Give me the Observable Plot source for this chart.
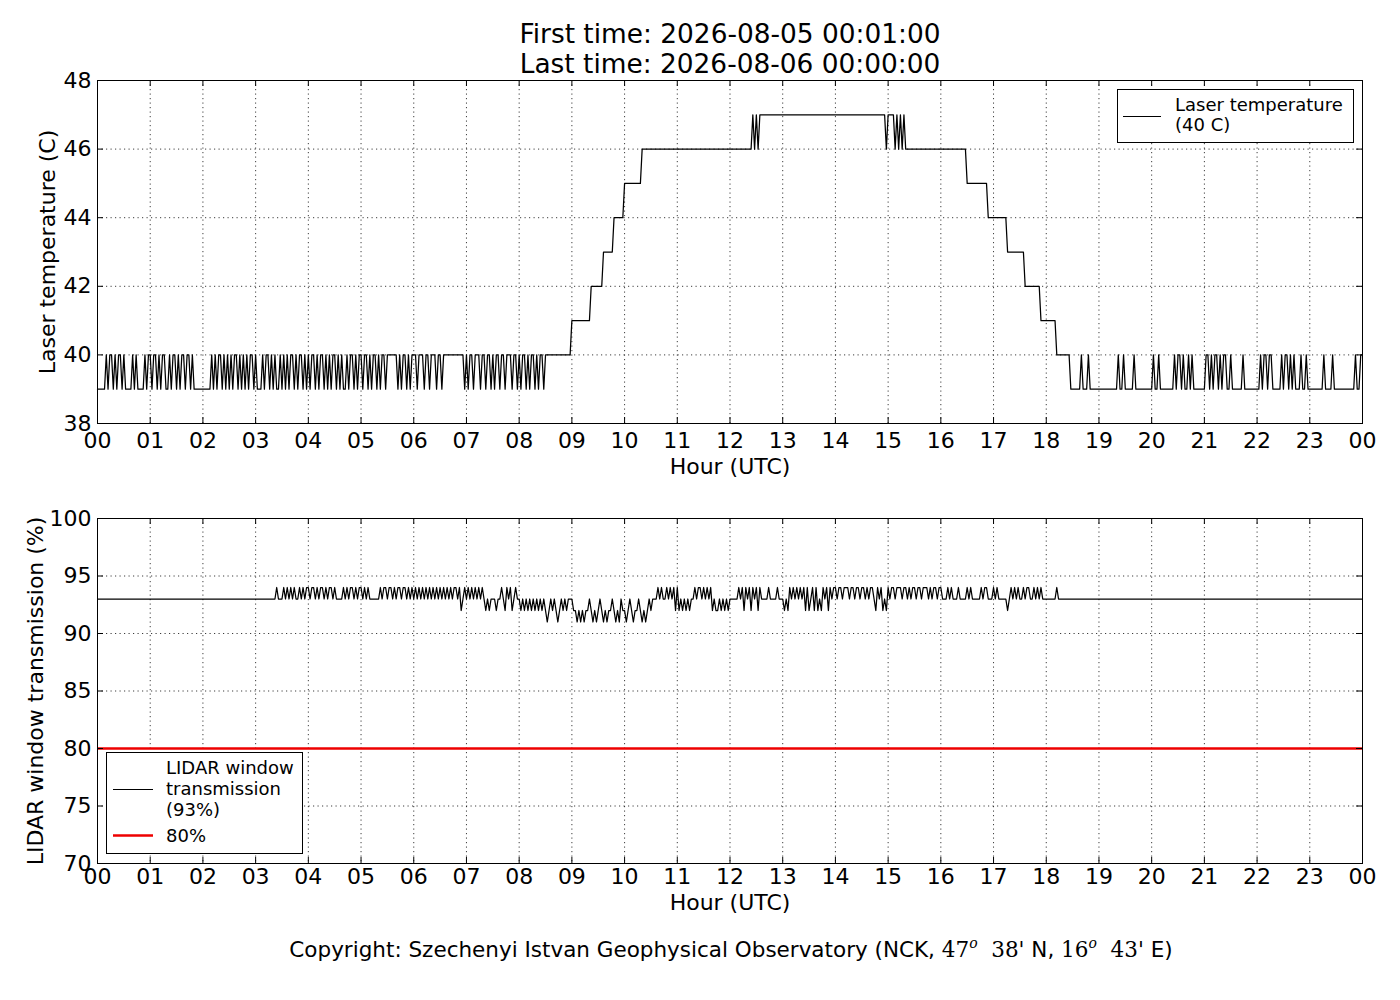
<!DOCTYPE html>
<html><head><meta charset="utf-8">
<script src="https://cdn.jsdelivr.net/npm/d3@7"></script>
<script src="https://cdn.jsdelivr.net/npm/@observablehq/plot@0.6"></script>
<style>
body{margin:0;background:#fff;font-family:"DejaVu Sans",sans-serif;color:#000}
#wrap{position:relative;width:1400px;height:1000px;overflow:hidden;background:#fff}
.abs{position:absolute}
#title{left:730px;top:19px;transform:translateX(-50%);font-size:26.4px;line-height:30px;text-align:center;white-space:nowrap}
.legend{border:1px solid #000;background:#fff;font-size:18px;box-sizing:border-box}
.legend .txt{position:absolute;white-space:nowrap}
#copy{left:731px;top:937px;transform:translateX(-50%);font-size:21.5px;white-space:nowrap}
.m{font-family:"DejaVu Serif",serif}
.m sup{font-size:14px;font-style:italic;vertical-align:9px;line-height:0}
</style>
</head><body>
<div id="wrap">
  <div id="title" class="abs">First time: 2026-08-05 00:01:00<br>Last time: 2026-08-06 00:00:00</div>
  <div id="top" class="abs" style="left:0;top:0"></div>
  <div id="bot" class="abs" style="left:0;top:480px"></div>
  <div class="abs legend" style="left:1117px;top:89px;width:237px;height:54px">
    <svg class="abs" style="left:0;top:0" width="60" height="54"><line x1="5" x2="43" y1="26.5" y2="26.5" stroke="#000" stroke-width="1.2"/></svg>
    <div class="txt" style="left:57px;top:5px;line-height:20px">Laser temperature<br>(40 C)</div>
  </div>
  <div class="abs legend" style="left:106px;top:752px;width:197px;height:102px">
    <svg class="abs" style="left:0;top:0" width="60" height="100"><line x1="6" x2="46" y1="36.5" y2="36.5" stroke="#000" stroke-width="1.2"/><line x1="6" x2="46" y1="82.5" y2="82.5" stroke="#e00" stroke-width="2.6"/></svg>
    <div class="txt" style="left:59px;top:4px;line-height:21px">LIDAR window<br>transmission<br>(93%)</div>
    <div class="txt" style="left:59px;top:72px;line-height:21px">80%</div>
  </div>
  <div id="copy" class="abs">Copyright: Szechenyi Istvan Geophysical Observatory (NCK, <span class="m">47<sup>o</sup>&nbsp;&nbsp;38'</span> N, <span class="m">16<sup>o</sup>&nbsp;&nbsp;43'</span> E)</div>
</div>
<script>
// ---- data: one string per hour, one character per 2-minute sample ----
// Laser temperature: value = 39 + digit
const tempBase = 39;
const tempHours = [
  "00000" + "101101011010" + "000" + "1010" + "000" + "101",
  "1011010110" + "0" + "10110101101" + "1010" + "0000",
  "00000" + "1010110101" + "0" + "10110101" + "0" + "10110",
  "10" + "00" + "1011" + "0" + "1010" + "0" + "101" + "0" + "101101011" + "0" + "10",
  "1011010110" + "10" + "1011" + "0" + "1010" + "0" + "1011" + "0" + "101",
  "1011010110101101" + "11111" + "010110101",
  "11011101101110110111" + "111111111" + "0",
  "1011011101" + "1011010110" + "1101110110",
  "101101011010110" + "111111111111111",
  "22222222222" + "3333333" + "444444" + "555555",
  "6666666666" + "77777777777777777777",
  "777777777777777777777777777777",
  "7777777777777" + "878788" + "88888888888",
  "888888888888888888888888888888",
  "888888888888888888888888888887",
  "8888787878" + "77777777777777777777",
  "777777777777777" + "666666666666" + "555",
  "55555555" + "4444444444" + "333333333" + "222",
  "222222" + "11111111" + "0000001000100000",
  "000000000001001000001000000000",
  "01001" + "00000000" + "101101" + "00" + "1" + "0" + "1" + "000000",
  "0" + "110101101011" + "00" + "1" + "000000" + "1" + "0000000",
  "00" + "1011011" + "00000" + "101101" + "0" + "1" + "000" + "1" + "00" + "1" + "0",
  "00000000" + "1" + "0000" + "1" + "000000000000" + "1" + "00" + "1"
];
const tempEnd = "1";

// LIDAR window transmission: value = 90 + digit
const transBase = 90;
const transHours = [
  "333333333333333333333333333333",
  "333333333333333333333333333333",
  "333333333333333333333333333333",
  "333333333333" + "4" + "333" + "434" + "3" + "4343" + "3" + "43434",
  "43443434434344343" + "333" + "4343443434",
  "434343" + "33333" + "4344344343443443434",
  "34343434343434343434343" + "4434234",
  "34343434343" + "2323" + "33233" + "4324342343",
  "3232323232323" + "232123232123232" + "33",
  "3221212122" + "3212123212" + "1223212132",
  "2123212232121232" + "3334343343" + "4342",
  "42" + "323232" + "33" + "4344343434" + "2322323232",
  "33333" + "4342434243424" + "3333" + "4" + "3333" + "4" + "33",
  "3" + "2324" + "34343434" + "2423424232434243" + "4",
  "4344344434434434434344" + "32434232",
  "4344344434" + "4343443443" + "4443434434",
  "43" + "33" + "434" + "333" + "4" + "3333" + "434" + "33333" + "4344" + "333",
  "434" + "33333" + "2" + "3" + "43434" + "33" + "4344" + "33" + "43434" + "33",
  "333333" + "4" + "33333333333333333333333",
  "333333333333333333333333333333",
  "333333333333333333333333333333",
  "333333333333333333333333333333",
  "333333333333333333333333333333",
  "333333333333333333333333333333"
];
const transEnd = "3";

const threshold = [80];
const hourVals = d3.range(0, 25);
const xTickLabels = ["00","01","02","03","04","05","06","07","08","09","10","11","12","13","14","15","16","17","18","19","20","21","22","23","00"];
const tempTicks = [38, 40, 42, 44, 46, 48];
const transTicks = [70, 75, 80, 85, 90, 95, 100];
const tempLabel = "Laser temperature (C)";
const transLabel = "LIDAR window transmission (%)";
const xLabel = "Hour (UTC)";

function series(hours, end, base) {
  const out = [];
  hours.forEach((s, h) => { for (let i = 0; i < s.length; i++) out.push({t: h + i / s.length, v: base + +s[i]}); });
  out.push({t: 24, v: base + +end});
  return out;
}
const tempData = series(tempHours, tempEnd, tempBase);
const transData = series(transHours, transEnd, transBase);

const ML = 97, MR = 38, FW = 1400 - ML - MR;
const gridStyle = {stroke: "#000", strokeOpacity: 0.85, strokeWidth: 0.9, strokeDasharray: "1.2,3.3"};

function panel({height, mt, mb, domain, ticks, data, label, labelDx, tickPad, xLabelDy, extra}) {
  const FH = height - mt - mb;
  const tk = 6;
  return Plot.plot({
    width: 1400, height, marginTop: mt, marginBottom: mb, marginLeft: ML, marginRight: MR,
    style: {fontFamily: "DejaVu Sans", fontSize: "22px", color: "#000", background: "transparent", overflow: "visible"},
    x: {domain: [0, 24]},
    y: {domain},
    marks: [
      Plot.gridX(hourVals, gridStyle),
      Plot.gridY(ticks, gridStyle),
      ...(extra || []),
      Plot.line(data, {x: "t", y: "v", stroke: "#000", strokeWidth: 1.25}),
      Plot.tickX(hourVals, {x: d => d, insetTop: FH - tk, stroke: "#000"}),
      Plot.tickX(hourVals, {x: d => d, insetBottom: FH - tk, stroke: "#000"}),
      Plot.tickY(ticks, {y: d => d, insetRight: FW - tk, stroke: "#000"}),
      Plot.tickY(ticks, {y: d => d, insetLeft: FW - tk, stroke: "#000"}),
      Plot.axisX(hourVals, {tickSize: 0, tickPadding: tickPad, tickFormat: d => xTickLabels[d], fontSize: 22, label: null}),
      Plot.axisY(ticks, {tickSize: 0, tickPadding: 6, fontSize: 22, label: null}),
      Plot.frame({stroke: "#000", strokeWidth: 1}),
      Plot.text([xLabel], {text: d => d, frameAnchor: "bottom", lineAnchor: "middle", dy: xLabelDy, fontSize: 22}),
      Plot.text([label], {text: d => d, frameAnchor: "left", textAnchor: "middle", lineAnchor: "middle", dx: labelDx, rotate: -90, fontSize: 22})
    ]
  });
}

const topPlot = panel({height: 480, mt: 80, mb: 57, domain: [38, 48], ticks: tempTicks, data: tempData, label: tempLabel, labelDx: -50, tickPad: 9, xLabelDy: 43});
const botPlot = panel({height: 460, mt: 38, mb: 77, domain: [70, 100], ticks: transTicks, data: transData, label: transLabel, labelDx: -62, tickPad: 5, xLabelDy: 39,
  extra: [Plot.ruleY(threshold, {stroke: "#e00", strokeWidth: 2.6})]});
document.getElementById("top").appendChild(topPlot);
document.getElementById("bot").appendChild(botPlot);
</script>
</body></html>
